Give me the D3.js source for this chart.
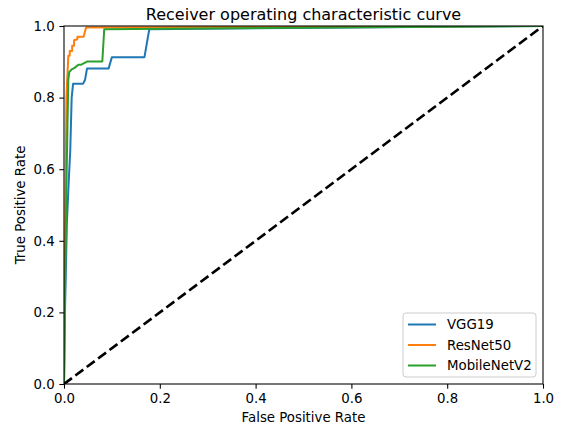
<!DOCTYPE html>
<html>
<head>
<meta charset="utf-8">
<script src="https://cdn.jsdelivr.net/npm/d3@7"></script>
<style>
  body { margin: 0; background: #fff; }
  svg { display: block; font-family: "DejaVu Sans", sans-serif; }
</style>
</head>
<body>
<svg id="chart" width="564" height="431"></svg>
<script>
// ROC points: [fpr, tpr]
const vgg19 = [
  [0, 0], [0.002, 0.2], [0.006, 0.45], [0.01, 0.57], [0.013, 0.65], [0.016, 0.8],
  [0.019, 0.839], [0.04, 0.839], [0.044, 0.85], [0.048, 0.881], [0.093, 0.881],
  [0.1, 0.913], [0.168, 0.913], [0.178, 0.991], [1, 1]
];
const resnet50 = [
  [0, 0], [0.002, 0.35], [0.005, 0.8], [0.009, 0.917], [0.012, 0.917], [0.012, 0.93],
  [0.017, 0.93], [0.017, 0.945], [0.021, 0.945], [0.021, 0.96], [0.028, 0.963],
  [0.028, 0.97], [0.041, 0.97], [0.046, 0.996], [1, 1]
];
const mobilenetv2 = [
  [0, 0], [0.002, 0.25], [0.005, 0.55], [0.009, 0.85], [0.011, 0.871], [0.016, 0.879],
  [0.022, 0.883], [0.03, 0.892], [0.036, 0.892], [0.049, 0.901], [0.08, 0.901],
  [0.084, 0.991], [1, 1]
];
const seriesNames = ["VGG19", "ResNet50", "MobileNetV2"];
const seriesColors = ["#1f77b4", "#ff7f0e", "#2ca02c"];
const ticks = [0, 0.2, 0.4, 0.6, 0.8, 1.0];

const svg = d3.select("#chart");
const margin = { left: 64, right: 21, top: 26, bottom: 47 };
const width = 564 - margin.left - margin.right;
const height = 431 - margin.top - margin.bottom;

const x = d3.scaleLinear().domain([0, 1]).range([0, width]);
const y = d3.scaleLinear().domain([0, 1]).range([height, 0]);

const g = svg.append("g").attr("transform", `translate(${margin.left},${margin.top})`);

const line = d3.line().x(d => x(d[0])).y(d => y(d[1]));

g.append("defs").append("clipPath").attr("id", "clip")
  .append("rect").attr("width", width).attr("height", height);

const plot = g.append("g").attr("clip-path", "url(#clip)");

[vgg19, resnet50, mobilenetv2].forEach((data, i) => {
  plot.append("path")
    .datum(data)
    .attr("d", line)
    .attr("fill", "none")
    .attr("stroke", seriesColors[i])
    .attr("stroke-width", 2)
    .attr("stroke-linejoin", "round");
});

// chance diagonal
plot.append("path")
  .datum([[0, 0], [1, 1]])
  .attr("d", line)
  .attr("fill", "none")
  .attr("stroke", "#000")
  .attr("stroke-width", 2.67)
  .attr("stroke-dasharray", "9.9,4.3");

const fmt = d3.format(".1f");
const xAxis = g.append("g").attr("transform", `translate(0,${height})`)
  .call(d3.axisBottom(x).tickValues(ticks).tickFormat(fmt).tickSize(4.67).tickPadding(4.67));
const yAxis = g.append("g")
  .call(d3.axisLeft(y).tickValues(ticks).tickFormat(fmt).tickSize(4.67).tickPadding(4.67));

[xAxis, yAxis].forEach(a => {
  a.select(".domain").remove();
  a.selectAll("line").attr("stroke", "#000").attr("stroke-width", 1.07);
  a.selectAll("text").attr("font-size", 13.33).attr("fill", "#000")
    .attr("font-family", "DejaVu Sans");
});

// frame
g.append("rect").attr("width", width).attr("height", height)
  .attr("fill", "none").attr("stroke", "#000").attr("stroke-width", 1.07);

svg.append("text")
  .attr("x", margin.left + width / 2).attr("y", 19.5)
  .attr("text-anchor", "middle").attr("font-size", 16)
  .text("Receiver operating characteristic curve");

svg.append("text")
  .attr("x", margin.left + width / 2).attr("y", 422)
  .attr("text-anchor", "middle").attr("font-size", 13.33)
  .text("False Positive Rate");

svg.append("text")
  .attr("transform", `translate(25,${margin.top + height / 2}) rotate(-90)`)
  .attr("text-anchor", "middle").attr("font-size", 13.33)
  .text("True Positive Rate");

// legend
const lg = svg.append("g").attr("transform", "translate(403,313)");
lg.append("rect").attr("width", 133).attr("height", 64).attr("rx", 3)
  .attr("fill", "#fff").attr("fill-opacity", 0.8)
  .attr("stroke", "#ccc").attr("stroke-width", 1);
seriesNames.forEach((name, i) => {
  const yy = 11.5 + i * 20.5;
  lg.append("line").attr("x1", 5).attr("x2", 33).attr("y1", yy).attr("y2", yy)
    .attr("stroke", seriesColors[i]).attr("stroke-width", 2);
  lg.append("text").attr("x", 44).attr("y", yy).attr("dy", "0.35em")
    .attr("font-size", 13.33).text(name);
});
</script>
</body>
</html>
